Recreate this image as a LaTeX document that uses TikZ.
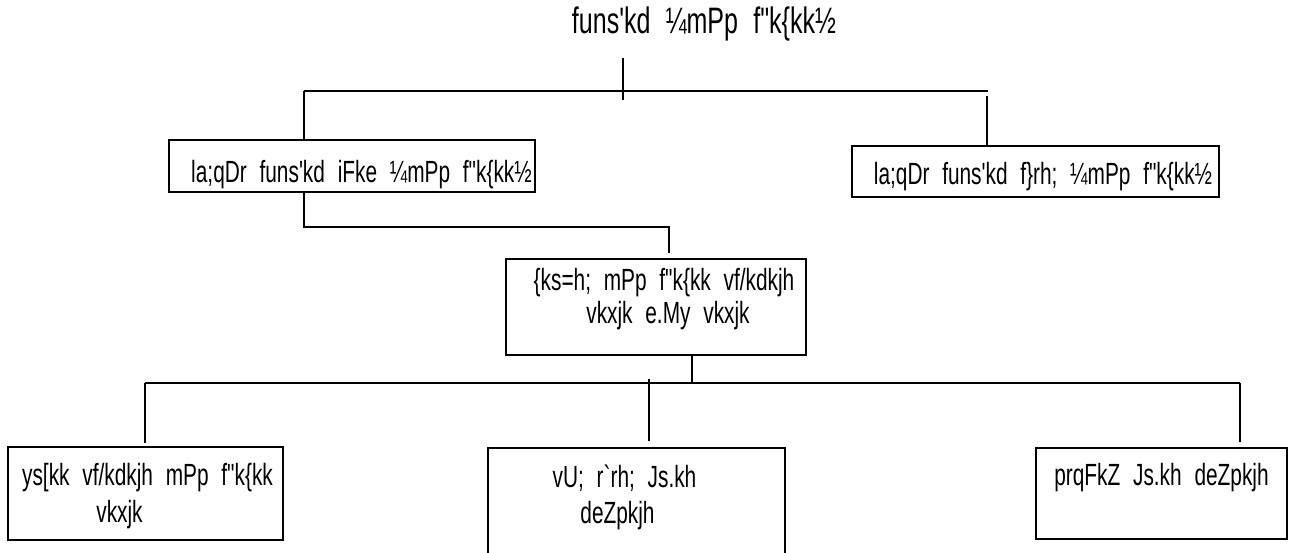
\documentclass[tikz,border=0pt]{standalone}
\usepackage{fontspec}
\usepackage{tikz}
\usetikzlibrary{calc}
\newfontfamily\kdfont[FakeStretch=0.68,WordSpace=2.2]{Liberation Sans}
\newcommand\kd{\kdfont\fontsize{23}{28}\selectfont}
\tikzset{
  box/.style 2 args={draw, line width=1.2pt, minimum width=#1*0.75pt,
    minimum height=#2*0.75pt, inner sep=0pt},
  lbl/.style={inner sep=0pt, anchor=base, font=\kd},
  conn/.style={line width=1.2pt}
}
\begin{document}
\begin{tikzpicture}[x=0.75pt,y=-0.75pt]
        \useasboundingbox (0,0) rectangle (1290,553);
        % boxes
        \node [box={366}{52}]  (jd1)   at (352,166)    {};
        \node [box={367}{51}]  (jd2)   at (1035.5,171.5) {};
        \node [box={300}{96}]  (rheo)  at (656,307)    {};
        \node [box={275}{93}]  (ao)    at (145.5,493.5) {};
        \node [box={297}{127}] (staff3) at (636.5,511.5) {};
        \node [box={251}{91}]  (staff4) at (1161.5,493.5) {};
        % texts
        \node [lbl, scale=1.2] (title) at (704,33) {funs'kd ¼mPp f"k\{kk½};
        \node [lbl] (jd1t)  at (361.5,182) {la;qDr funs'kd iFke ¼mPp f"k\{kk½};
        \node [lbl] (jd2t)  at (1043,184)  {la;qDr funs'kd f\}rh; ¼mPp f"k\{kk½};
        \node [lbl] (rheoA) at (664,290)   {\{ks=h; mPp f"k\{kk vf/kdkjh};
        \node [lbl] (rheoB) at (668,323)   {vkxjk e.My vkxjk};
        \node [lbl] (aoA)   at (147.5,485) {ys[kk vf/kdkjh mPp f"k\{kk};
        \node [lbl] (aoB)   at (119.5,522) {vkxjk};
        \node [lbl] (staff3A) at (624.5,487) {vU; r`rh; Js.kh};
        \node [lbl] (staff3B) at (617.5,523) {deZpkjh};
        \node [lbl] (staff4A) at (1161.5,485) {prqFkZ Js.kh deZpkjh};
        % joints
        \coordinate (t1)   at (623,58);
        \coordinate (t2)   at (623,100);
        \coordinate (busL) at (304,91);
        \coordinate (busR) at (988,91);
        \coordinate (r1)   at (987,96);
        \coordinate (l1)   at (304,227);
        \coordinate (l2)   at (669,227);
        \coordinate (l3)   at (669,253);
        \coordinate (m1)   at (692,383);
        \coordinate (b2L)  at (145,383);
        \coordinate (b2R)  at (1240,383);
        \coordinate (aoT)  at (145,443);
        \coordinate (s3a)  at (649,379);
        \coordinate (s3b)  at (649,441);
        \coordinate (s4T)  at (1240,442);
        % connectors
        \draw [conn] (t1) -- (t2);
        \draw [conn] (busL) -- (busR);
        \draw [conn] (busL) -- (busL |- jd1.north);
        \draw [conn] (r1) -- (r1 |- jd2.north);
        \draw [conn] (l1 |- jd1.south) -- (l1) -- (l2) -- (l3);
        \draw [conn] (m1 |- rheo.south) -- (m1);
        \draw [conn] (b2L) -- (b2R);
        \draw [conn] (b2L) -- (aoT);
        \draw [conn] (s3a) -- (s3b);
        \draw [conn] (b2R) -- (s4T);
    \end{tikzpicture}
\end{document}
